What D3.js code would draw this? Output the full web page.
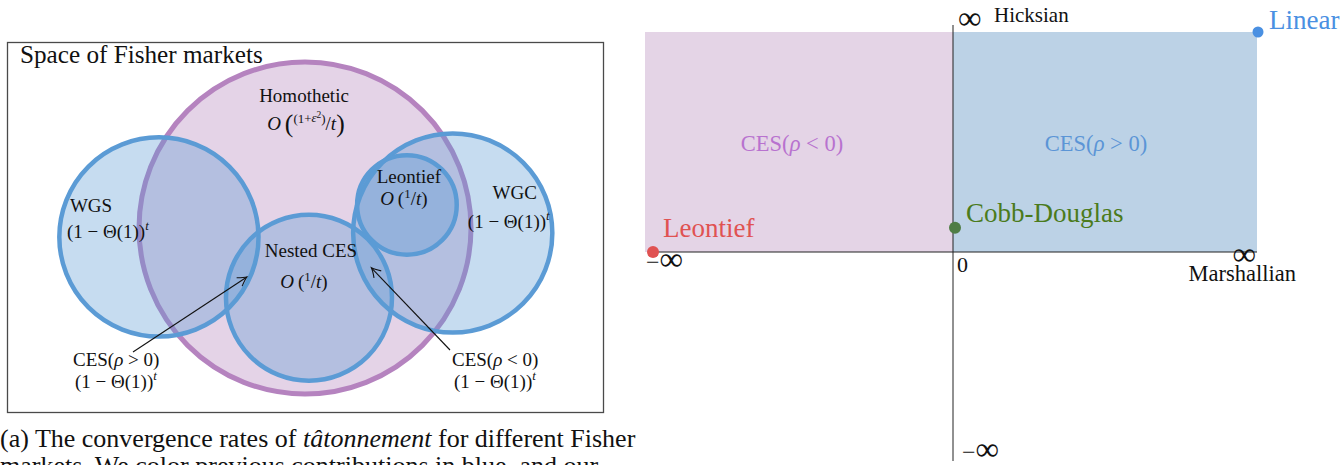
<!DOCTYPE html>
<html>
<head>
<meta charset="utf-8">
<script src="https://cdn.jsdelivr.net/npm/d3@7"></script>
<style>
  body { margin: 0; background: #fff; }
  svg { display: block; font-family: "Liberation Serif", "Times New Roman", serif; }
</style>
</head>
<body>
<svg id="fig" width="1343" height="465"></svg>
<script>
// ---------- Left panel: classes of Fisher markets (circles in unit coordinates) ----------
const marketClasses = ["Homothetic", "WGS", "WGC", "Nested CES", "Leontief"];
const classCx = [0.00, -0.88, 0.89, 0.024, 0.614];
const classCy = [0.00, 0.054, 0.030, 0.420, -0.139];
const classR  = [1.00, 0.60, 0.60, 0.50, 0.30];
const classGroup = ["ours", "prior", "prior", "prior", "prior"];
// convergence rate of each class, as math segments [text, kind]
const classRates = [
  [["O", "i"], ["\u2009", "r"], ["(", "big"], ["(1+", "sup"], ["\u03B5", "supi"], ["2", "supsup"], [")", "sup"], ["/", "r"], ["t", "i"], [")", "big"]],
  [["(1 \u2212 \u0398(1))", "r"], ["t", "supi"]],
  [["(1 \u2212 \u0398(1))", "r"], ["t", "supi"]],
  [["O", "i"], ["\u2009(", "r"], ["1", "sup"], ["/", "r"], ["t", "i"], [")", "r"]],
  [["O", "i"], ["\u2009(", "r"], ["1", "sup"], ["/", "r"], ["t", "i"], [")", "r"]]
];
// CES sub-families pointed at inside the diagram
const cesNotes = [
  [["CES(", "r"], ["\u03C1", "i"], [" > 0)", "r"]],
  [["CES(", "r"], ["\u03C1", "i"], [" < 0)", "r"]]
];
const cesNoteRate = [["(1 \u2212 \u0398(1))", "r"], ["t", "supi"]];
const cesNoteTipX = [-0.35, 0.40];
const cesNoteTipY = [0.295, 0.24];

// ---------- Right panel: CES utilities by Marshallian / Hicksian elasticity ----------
const tickValues = [-1, 0, 1];
const tickLabels = ["\u2212\u221E", "0", "\u221E"];
const utilityNames = ["Leontief", "Cobb-Douglas", "Linear"];
const utilityMarshallian = [-1, 0, 1];
const utilityHicksian = [0, 0.11, 1];
const cesRegionNames = [
  [["CES(", "r"], ["\u03C1", "i"], [" < 0)", "r"]],
  [["CES(", "r"], ["\u03C1", "i"], [" > 0)", "r"]]
];
const cesRegionFrom = [-1, 0];
const cesRegionTo = [0, 1];
const axisTitles = ["Marshallian", "Hicksian"];

const svg = d3.select("#fig");

const BLUE = "#5b9bd5";
const PURPLE = "#b07fba";

// math text helper: builds tspans with raised / lowered pieces
function mathText(sel, segs, size) {
  const shiftOf = { sup: -0.36, supi: -0.40, supsup: -0.62, big: 0.08 };
  const sizeOf = { sup: 0.68, supi: 0.68, supsup: 0.5, big: 1.35 };
  let shift = 0;
  segs.forEach(([t, k]) => {
    const target = (shiftOf[k] || 0) * size;
    sel.append("tspan")
      .text(t)
      .attr("dy", target - shift)
      .attr("font-size", (sizeOf[k] || 1) * size)
      .attr("font-style", (k === "i" || k === "supi") ? "italic" : "normal");
    shift = target;
  });
  return sel;
}

// ===== Left panel =====
const left = svg.append("g");
left.append("rect")
  .attr("x", 7.5).attr("y", 42.5).attr("width", 596).attr("height", 370)
  .attr("fill", "#fff").attr("stroke", "#4a4a4a").attr("stroke-width", 1.3);

left.append("text")
  .attr("x", 20).attr("y", 63)
  .attr("font-size", 25.2).attr("fill", "#111")
  .text("Space of Fisher markets");

const ux = d3.scaleLinear().domain([-1, 1]).range([139, 471]);
const uy = d3.scaleLinear().domain([-1, 1]).range([62, 394]);
const ur = d => ux(d) - ux(0);

marketClasses.forEach((name, i) => {
  const ours = classGroup[i] === "ours";
  left.append("circle")
    .attr("cx", ux(classCx[i])).attr("cy", uy(classCy[i])).attr("r", ur(classR[i]))
    .attr("fill", ours ? PURPLE : BLUE)
    .attr("fill-opacity", ours ? 0.34 : 0.35)
    .attr("stroke", ours ? "#b583bf" : BLUE)
    .attr("stroke-width", ours ? 5 : 4.5);
});

// label placement relative to each circle's centre (px): name dx, name dy, rate dx, rate dy, anchor
const labelLayout = [
  [-1, -126, 1, -98, "middle"],
  [-89, -25, -92, 1, "start"],
  [62, -34, 56, -5, "middle"],
  [2, -41, -5, -10, "middle"],
  [2, -22, -3, 0, "middle"]
];
const labelSize = 19;
marketClasses.forEach((name, i) => {
  const cx = ux(classCx[i]), cy = uy(classCy[i]);
  const [ndx, ndy, rdx, rdy, anchor] = labelLayout[i];
  left.append("text")
    .attr("x", cx + ndx).attr("y", cy + ndy)
    .attr("text-anchor", anchor).attr("font-size", labelSize).attr("fill", "#111")
    .text(name);
  mathText(left.append("text")
    .attr("x", cx + rdx).attr("y", cy + rdy)
    .attr("text-anchor", anchor).attr("fill", "#111"), classRates[i], labelSize);
});

// arrows from CES notes into the lens regions
const defs = svg.append("defs");
defs.append("marker")
  .attr("id", "arrowhead").attr("viewBox", "-10 -6 12 12")
  .attr("refX", 0).attr("refY", 0)
  .attr("markerWidth", 12).attr("markerHeight", 12)
  .attr("markerUnits", "userSpaceOnUse").attr("orient", "auto")
  .append("path")
  .attr("d", "M-9,-5 Q-3,-1 0,0 Q-3,1 -9,5")
  .attr("fill", "none").attr("stroke", "#111").attr("stroke-width", 1.1);

const noteLayout = [
  { x: 73, y: 366, sx: 133, sy: 352 },
  { x: 452, y: 366, sx: 450, sy: 350 }
];
cesNotes.forEach((segs, i) => {
  const L = noteLayout[i];
  mathText(left.append("text").attr("x", L.x).attr("y", L.y).attr("fill", "#111"), segs, labelSize);
  mathText(left.append("text").attr("x", L.x + 2).attr("y", L.y + 22).attr("fill", "#111"), cesNoteRate, labelSize);
  left.append("line")
    .attr("x1", L.sx).attr("y1", L.sy)
    .attr("x2", ux(cesNoteTipX[i])).attr("y2", uy(cesNoteTipY[i]))
    .attr("stroke", "#111").attr("stroke-width", 1.1)
    .attr("marker-end", "url(#arrowhead)");
});

// caption
const capSize = 26;
const cap = svg.append("text").attr("x", 0).attr("y", 447).attr("font-size", capSize).attr("fill", "#111");
cap.append("tspan").text("(a) The convergence rates of ");
cap.append("tspan").attr("font-style", "italic").text("t\u00E2tonnement");
cap.append("tspan").text(" for different Fisher");
svg.append("text").attr("x", 0).attr("y", 474).attr("font-size", capSize).attr("fill", "#111")
  .text("markets. We color previous contributions in blue, and our");

// ===== Right panel =====
const right = svg.append("g");
const mx = d3.scaleLinear().domain([-1, 0, 1]).range([649, 953, 1257]);
const hy = d3.scaleLinear().domain([-1, 0, 1]).range([461, 252, 32]);

const regionFill = ["#e4d4e6", "#bcd2e6"];
const regionText = ["#b872cf", "#5b95d6"];
cesRegionNames.forEach((segs, i) => {
  right.append("rect")
    .attr("x", mx(cesRegionFrom[i]) - (i === 0 ? 4 : 0)).attr("y", hy(1))
    .attr("width", mx(cesRegionTo[i]) - mx(cesRegionFrom[i]) + (i === 0 ? 4 : 0))
    .attr("height", hy(0) - hy(1))
    .attr("fill", regionFill[i]);
  mathText(right.append("text")
    .attr("x", (mx(cesRegionFrom[i]) + mx(cesRegionTo[i])) / 2 - 9)
    .attr("y", hy(0.46))
    .attr("text-anchor", "middle").attr("fill", regionText[i]), segs, 22.5);
});

// axes
right.append("line")
  .attr("x1", mx(-1)).attr("x2", mx(1)).attr("y1", hy(0)).attr("y2", hy(0))
  .attr("stroke", "#222").attr("stroke-width", 1);
right.append("line")
  .attr("x1", mx(0)).attr("x2", mx(0)).attr("y1", hy(1) - 7).attr("y2", hy(-1))
  .attr("stroke", "#222").attr("stroke-width", 1);

// tick labels at the extremes of each axis
function infLabel(x, y, label, anchor) {
  const t = right.append("text").attr("x", x).attr("y", y).attr("text-anchor", anchor || "start").attr("fill", "#111");
  if (label.length === 2) {
    t.append("tspan").attr("font-size", 24).text(label[0]);
    t.append("tspan").attr("font-size", 33).text(label[1]);
  } else if (label === "\u221E") {
    t.attr("font-size", 33).text(label);
  } else {
    t.attr("font-size", 22).text(label);
  }
  return t;
}
infLabel(mx(tickValues[0]) - 3, hy(0) + 18, tickLabels[0]);
infLabel(mx(tickValues[1]) + 4, hy(0) + 20, tickLabels[1]);
infLabel(mx(tickValues[2]) - 1, hy(0) + 13, tickLabels[2], "end");
infLabel(mx(0) + 5, hy(1) - 3, tickLabels[2]);
infLabel(mx(0) + 9, hy(-1) - 1, tickLabels[0]);

right.append("text").attr("x", mx(1) + 39).attr("y", hy(0) + 29)
  .attr("text-anchor", "end").attr("font-size", 22.5).attr("fill", "#111").text(axisTitles[0]);
right.append("text").attr("x", mx(0) + 41).attr("y", hy(1) - 10)
  .attr("font-size", 21).attr("fill", "#111").text(axisTitles[1]);

// named utilities
const utilColor = ["#e05252", "#4f7d45", "#4a90e2"];
const utilTextColor = ["#e05252", "#4b7b1c", "#4a90e2"];
const utilLabelOffset = [[14, -15], [13, -6], [12, -3]];
utilityNames.forEach((name, i) => {
  const px = mx(utilityMarshallian[i]), py = hy(utilityHicksian[i]);
  right.append("circle").attr("cx", px + (i === 0 ? 4 : i === 1 ? 2 : 1)).attr("cy", py)
    .attr("r", i === 2 ? 5.5 : 6).attr("fill", utilColor[i]);
  right.append("text")
    .attr("x", px + utilLabelOffset[i][0]).attr("y", py + utilLabelOffset[i][1])
    .attr("font-size", 27).attr("fill", utilTextColor[i])
    .text(name);
});
</script>
</body>
</html>
